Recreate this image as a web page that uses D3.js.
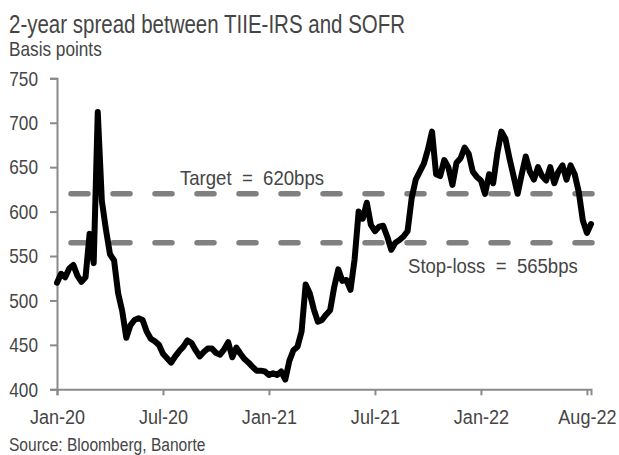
<!DOCTYPE html>
<html>
<head>
<meta charset="utf-8">
<script src="https://cdn.jsdelivr.net/npm/d3@7"></script>
<style>
  body { margin: 0; background: #fff; }
  text { font-family: "Liberation Sans", Arial, sans-serif; fill: #454545; }
</style>
</head>
<body>
<div id="chart"></div>
<script>
const [width, height] = [619, 455];

// weekly readings, Jan-20 .. Aug-22 (bps)
const spread = [
  520, 530, 526, 536, 540, 528, 521, 526, 575, 542,
  712, 612, 580, 552, 545, 508, 488, 458, 472, 478,
  480, 478, 465, 457, 454, 450, 440, 435, 430, 437,
  443, 448, 455, 452, 444, 437, 442, 446, 446, 441,
  439, 445, 453, 436, 447, 440, 434, 430, 425, 421,
  421, 420, 416, 418, 416, 420, 411, 432, 444, 448,
  465, 518, 508, 490, 476, 478, 484, 489, 515, 535,
  522, 523, 512, 546, 600, 592, 610, 585, 578, 583,
  584, 572, 557, 565, 568, 572, 578, 615, 636, 645,
  654, 670, 690, 642, 640, 658, 650, 630, 655, 660,
  672, 665, 645, 639, 635, 620, 642, 632, 665, 690,
  682, 660, 640, 620, 642, 662, 645, 636, 650, 640,
  635, 650, 632, 645, 652, 636, 652, 642, 622, 590,
  576, 586
];

const tickIndex = [0, 26, 52, 78, 104, 130];
const tickLabels = ["Jan-20", "Jul-20", "Jan-21", "Jul-21", "Jan-22", "Aug-22"];
const yTicks = [400, 450, 500, 550, 600, 650, 700, 750];

const target = 620;
const stopLoss = 565;

const margin = {top: 78.3, right: 28, bottom: 65.7, left: 57};

const svg = d3.select("#chart")
  .append("svg")
  .attr("width", width)
  .attr("height", height);

const x = d3.scaleLinear()
  .domain([0, 131])
  .range([margin.left, width - margin.right]);

const y = d3.scaleLinear()
  .domain([400, 750])
  .range([height - margin.bottom, margin.top]);

// squeeze a text horizontally around its anchor (narrow face look)
function narrow(sel, k = 0.82) {
  sel.each(function() {
    const t = d3.select(this);
    const ax = +t.attr("x") || 0;
    t.attr("transform", `translate(${ax},0) scale(${k},1) translate(${-ax},0)`);
  });
}

// axes
const yAxis = svg.append("g")
  .attr("transform", `translate(${margin.left},0)`)
  .call(d3.axisLeft(y).tickValues(yTicks).tickSize(7).tickPadding(12));

const xAxis = svg.append("g")
  .attr("transform", `translate(0,${height - margin.bottom})`)
  .call(d3.axisBottom(x).tickValues(tickIndex).tickSize(6).tickPadding(14)
    .tickFormat((d, i) => tickLabels[i]));

[yAxis, xAxis].forEach(g => {
  g.select(".domain").attr("stroke", "#8a8a8a").attr("stroke-width", 2);
  g.selectAll(".tick line").attr("stroke", "#8a8a8a").attr("stroke-width", 2);
  g.selectAll(".tick text").style("font-size", "21px").attr("fill", "#454545");
});
yAxis.selectAll(".tick text").call(narrow, 0.82);
xAxis.selectAll(".tick text").call(narrow, 0.86);

// reference lines
const refLine = (v) => svg.append("line")
  .attr("x1", x(0))
  .attr("x2", x(131) + 1)
  .attr("y1", y(v))
  .attr("y2", y(v))
  .attr("stroke", "#808080")
  .attr("stroke-width", 5.5)
  .attr("stroke-linecap", "round")
  .attr("stroke-dasharray", "17,25")
  .attr("stroke-dashoffset", 28);

refLine(target);
refLine(stopLoss);

// spread line
const line = d3.line()
  .x((d, i) => x(i))
  .y(d => y(d));

svg.append("path")
  .datum(spread)
  .attr("fill", "none")
  .attr("stroke", "#000")
  .attr("stroke-width", 6)
  .attr("stroke-linejoin", "round")
  .attr("stroke-linecap", "round")
  .attr("d", line);

// labels
const label = (tx, ty, size, str, k = 0.82) => svg.append("text")
  .attr("x", tx)
  .attr("y", ty)
  .style("font-size", size + "px")
  .style("white-space", "pre")
  .text(str)
  .call(narrow, k);

label(180, y(target) - 9, 21, "Target  =  620bps", 0.885);
label(408, y(stopLoss) + 30, 21, "Stop-loss  =  565bps", 0.885);
label(9, 33, 25, "2-year spread between TIIE-IRS and SOFR");
label(9, 56, 21, "Basis points");
label(9, 451, 19, "Source: Bloomberg, Banorte");
</script>
</body>
</html>
